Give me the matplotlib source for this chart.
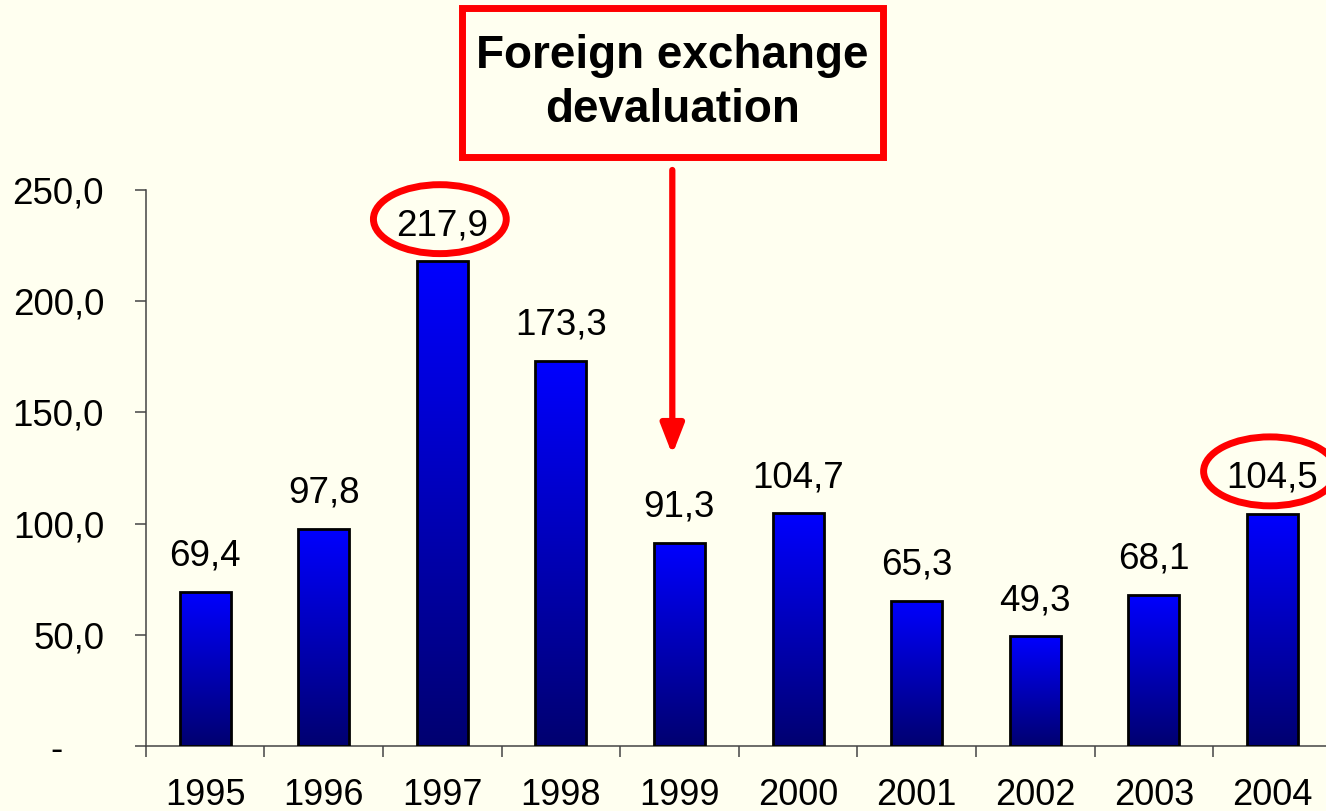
import matplotlib
matplotlib.use('Agg')
import matplotlib.pyplot as plt
import numpy as np
from matplotlib.patches import Rectangle, Ellipse
from matplotlib.colors import LinearSegmentedColormap

plt.rcParams['font.family'] = ['Liberation Sans', 'DejaVu Sans']

# data
years = ['1995', '1996', '1997', '1998', '1999', '2000', '2001', '2002', '2003', '2004']
values = [69.4, 97.8, 217.9, 173.3, 91.3, 104.7, 65.3, 49.3, 68.1, 104.5]
circled = ['1997', '2004']
y_ticks = [0, 50, 100, 150, 200, 250]

bg = '#FFFFF0'
fig = plt.figure(figsize=(13.26, 8.11), dpi=100, facecolor=bg)
ax = fig.add_axes([0.1099, 0.0801, 0.8944, 0.6856], facecolor=bg)

x = np.arange(len(years))
w = 0.43
cmap = LinearSegmentedColormap.from_list('bar', ['#000070', '#0000FF'])
grad = np.linspace(0, 1, 256).reshape(-1, 1)

bars = ax.bar(x, values, width=w, color='none', edgecolor='black', linewidth=2, zorder=3)
for b in bars:
    x0, y0 = b.get_x(), b.get_y()
    bw, bh = b.get_width(), b.get_height()
    im = ax.imshow(grad, cmap=cmap, aspect='auto', origin='lower',
                   extent=[x0, x0 + bw, y0, y0 + bh], zorder=2)
    im.set_clip_path(b)

# value labels
for xi, v in zip(x, values):
    ax.annotate(f"{v:.1f}".replace('.', ','), xy=(xi, v), xytext=(0, 13),
                textcoords='offset points', ha='center', va='bottom', fontsize=26.5)

ax.set_xlim(-0.5, len(years) - 0.5)
ax.set_ylim(0, 250)

ax.set_yticks(y_ticks)
ax.set_yticklabels(['-    '] + [f"{t:.1f}".replace('.', ',') for t in y_ticks[1:]])
ax.tick_params(axis='y', length=8, width=1.1, color='#444444', pad=22, labelsize=26.5)

ax.set_xticks(np.arange(len(years) + 1) - 0.5)
ax.set_xticklabels([])
ax.set_xticks(x, minor=True)
ax.set_xticklabels(years, minor=True)
ax.tick_params(axis='x', which='major', length=8, width=1.1, color='#444444')
ax.tick_params(axis='x', which='minor', length=0, pad=23, labelsize=26)

for s in ['top', 'right']:
    ax.spines[s].set_visible(False)
for s in ['left', 'bottom']:
    ax.spines[s].set_color('#444444')
    ax.spines[s].set_linewidth(1.1)

# ellipses around highlighted values
for yr in circled:
    i = years.index(yr)
    ax.add_patch(Ellipse((i - 0.02, values[i] + 19), 1.12, 31, fill=False,
                         edgecolor='#FF0000', linewidth=5, clip_on=False, zorder=5))

# annotation box
fig.patches.append(Rectangle((0.3484, 0.8064), 0.3175, 0.1837, transform=fig.transFigure,
                             fill=False, edgecolor='#FF0000', linewidth=5))
fig.text(0.5072, 0.8977, 'Foreign exchange\ndevaluation', ha='center', va='center',
         fontsize=33, fontweight='bold', linespacing=1.3)

# arrow toward 1999
ax.annotate('', xy=(3.94, 131), xytext=(3.94, 259), annotation_clip=False,
            arrowprops=dict(arrowstyle='-|>,head_length=0.9,head_width=0.35', lw=4.5,
                            color='#FF0000', mutation_scale=20, shrinkA=0, shrinkB=0))

fig.savefig('out.png', dpi=100, facecolor=bg)
